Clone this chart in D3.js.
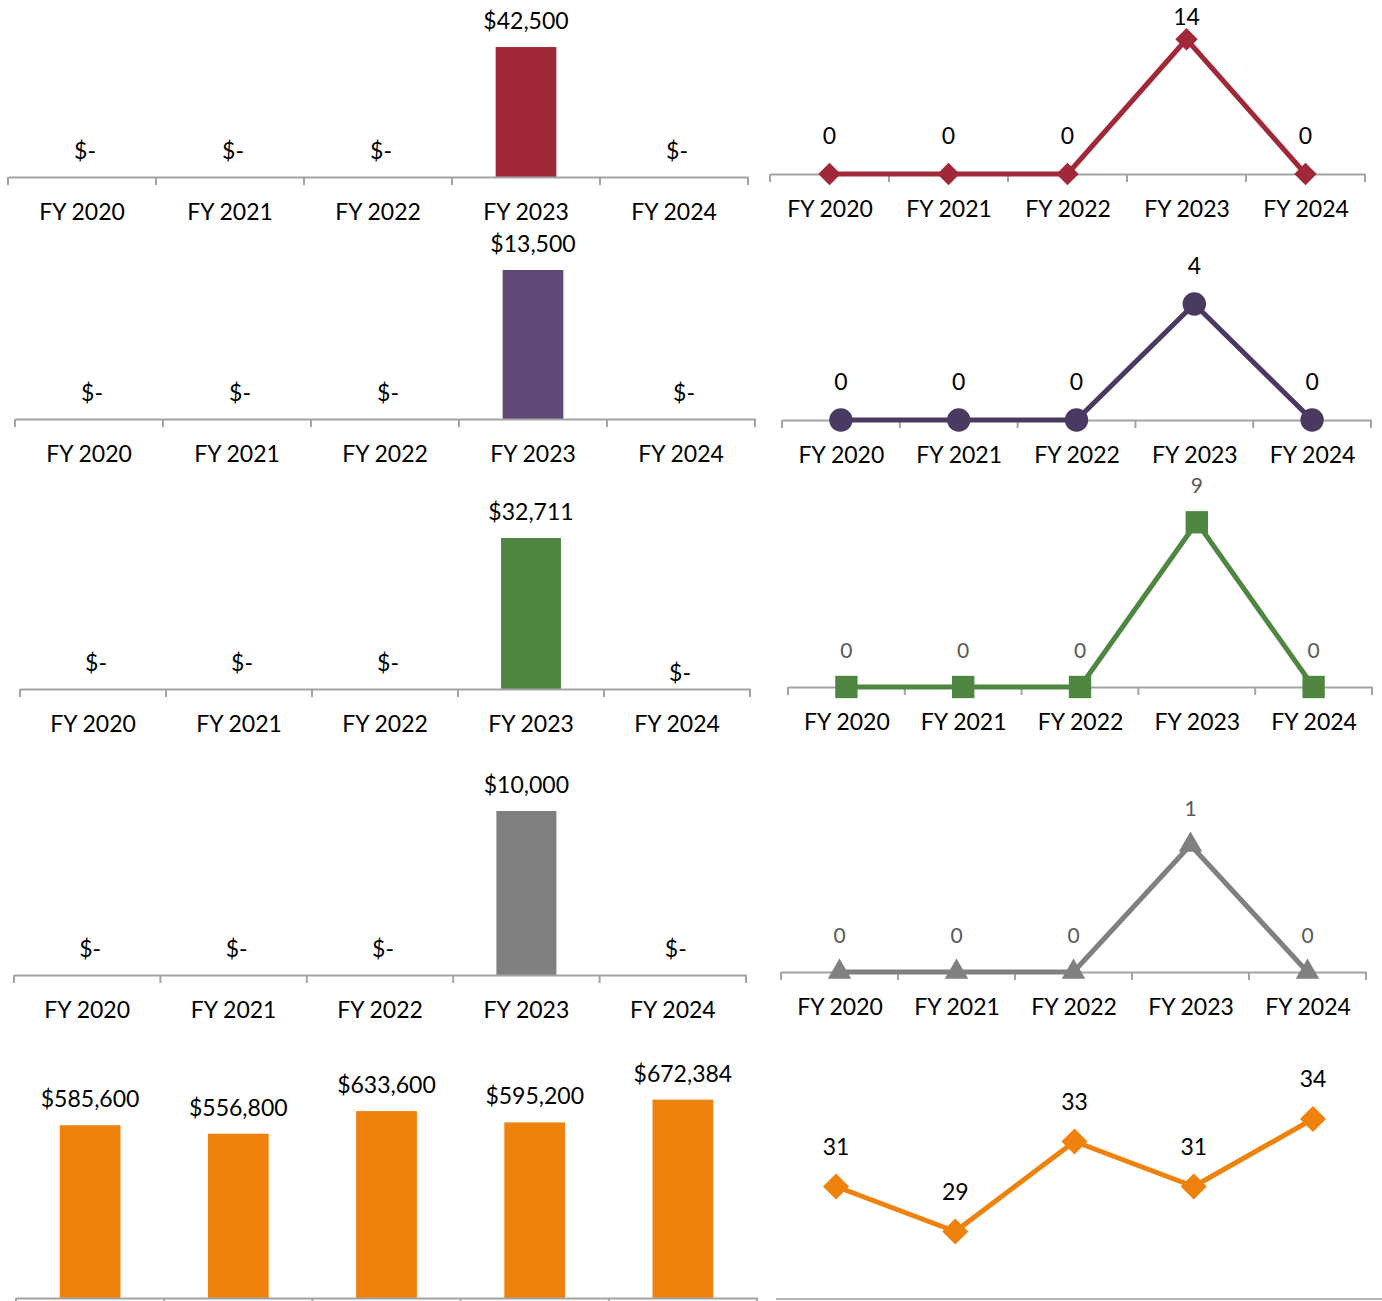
<!DOCTYPE html>
<html>
<head>
<meta charset="utf-8">
<script src="https://cdn.jsdelivr.net/npm/d3@7"></script>
<style>
  html, body { margin: 0; padding: 0; background: #fff; }
  svg { display: block; font-family: Lato, "Open Sans", sans-serif; }
</style>
</head>
<body>
<script>
// Fiscal years shared by every small chart
const years = ["FY 2020", "FY 2021", "FY 2022", "FY 2023", "FY 2024"];

// Dollar amounts (bar charts, left column)
const amountsRed    = [0, 0, 0, 42500, 0];
const amountsPurple = [0, 0, 0, 13500, 0];
const amountsGreen  = [0, 0, 0, 32711, 0];
const amountsGray   = [0, 0, 0, 10000, 0];
const amountsOrange = [585600, 556800, 633600, 595200, 672384];

// Counts (line charts, right column)
const countsRed    = [0, 0, 0, 14, 0];
const countsPurple = [0, 0, 0, 4, 0];
const countsGreen  = [0, 0, 0, 9, 0];
const countsGray   = [0, 0, 0, 1, 0];
const countsOrange = [31, 29, 33, 31, 34];

const W = 1382, H = 1301;
const AXIS_COLOR = "#a3a3a3";
const FONT = 23;

const svg = d3.select("body").append("svg").attr("width", W).attr("height", H);

const money = v => v === 0 ? "$-" : d3.format("$,")(v);

function drawAxis(g, scale, x0, x1, axisY, showLabels, tickLen) {
  const step = (x1 - x0) / years.length;
  const ax = g.append("g")
    .attr("transform", `translate(0,${axisY})`)
    .call(d3.axisBottom(scale).tickSize(0).tickSizeOuter(0));
  ax.select(".domain").attr("stroke", AXIS_COLOR).attr("stroke-width", 2);
  if (showLabels) {
    ax.selectAll(".tick text")
      .attr("y", 34.5).attr("dy", "0.35em").attr("fill", "#000")
      .style("font-size", FONT + "px").style("font-family", "Lato, sans-serif");
  } else {
    // category names fall below the bottom edge of the page
    ax.selectAll(".tick text").remove();
  }
  // category boundary ticks
  g.append("g").selectAll("line")
    .data(d3.range(years.length + 1))
    .join("line")
    .attr("x1", i => x0 + i * step).attr("x2", i => x0 + i * step)
    .attr("y1", axisY).attr("y2", axisY + tickLen)
    .attr("stroke", AXIS_COLOR).attr("stroke-width", 2);
}

function barPanel(p) {
  const g = svg.append("g");
  const x = d3.scaleBand().domain(years).range([p.x0, p.x1])
    .paddingInner(0.59).paddingOuter(0.295);
  const y = d3.scaleLinear().domain([0, p.max]).range([p.axisY, p.top]);
  const rows = years.map((yr, i) => ({ yr, v: p.values[i], i }));

  g.selectAll("rect").data(rows).join("rect")
    .attr("x", d => x(d.yr)).attr("width", x.bandwidth())
    .attr("y", d => y(d.v)).attr("height", d => p.axisY - y(d.v))
    .attr("fill", p.color);

  drawAxis(g, x, p.x0, p.x1, p.axisY, p.labels !== false, 8);

  g.selectAll("text.lbl").data(rows).join("text").attr("class", "lbl")
    .attr("x", d => x(d.yr) + x.bandwidth() / 2 + (d.v === 0 ? 3 : 0))
    .attr("y", d => y(d.v) - 26 + (p.nudge && p.nudge[d.i] ? p.nudge[d.i] : 0))
    .attr("dy", "0.35em").attr("text-anchor", "middle")
    .style("font-size", FONT + "px").attr("fill", "#000")
    .text(d => money(d.v));
}

function linePanel(p) {
  const g = svg.append("g");
  const x = d3.scalePoint().domain(years).range([p.x0, p.x1]).padding(0.5);
  const y = d3.scaleLinear().domain(p.domain).range([p.axisY, p.top]);
  const rows = years.map((yr, i) => ({ yr, v: p.values[i] }));

  if (p.ticks) {
    drawAxis(g, x, p.x0, p.x1, p.axisY, true, 8);
  } else {
    g.append("line").attr("x1", p.lineX0).attr("x2", p.lineX1)
      .attr("y1", p.axisY).attr("y2", p.axisY)
      .attr("stroke", "#b5b5b5").attr("stroke-width", 2);
  }

  g.append("path").datum(rows)
    .attr("fill", "none").attr("stroke", p.color).attr("stroke-width", 5)
    .attr("stroke-linejoin", "round")
    .attr("d", d3.line().x(d => x(d.yr)).y(d => y(d.v)));

  const sym = d3.symbol().type(p.symbol).size(p.size);
  g.selectAll("path.mk").data(rows).join("path").attr("class", "mk")
    .attr("d", sym)
    .attr("transform", d => `translate(${x(d.yr)},${y(d.v)}) rotate(${p.rotate || 0})`)
    .attr("fill", p.color);

  g.selectAll("text.lbl").data(rows).join("text").attr("class", "lbl")
    .attr("x", d => x(d.yr))
    .attr("y", d => Math.max(y(d.v) - p.labelOffset, p.labelMin))
    .attr("dy", "0.35em").attr("text-anchor", "middle")
    .style("font-size", p.labelSize + "px").attr("fill", p.labelColor)
    .text(d => d.v);
}

// Left column: dollar amounts
barPanel({ values: amountsRed,    color: "#a12838", x0: 8,  x1: 748, axisY: 177,  top: 39.4,  max: 45000 });
barPanel({ values: amountsPurple, color: "#5f4878", x0: 15, x1: 755, axisY: 419,  top: 264.5, max: 14000 });
barPanel({ values: amountsGreen,  color: "#4f8742", x0: 20, x1: 750, axisY: 689,  top: 527.4, max: 35000, nudge: [0, 0, 0, 0, 10] });
barPanel({ values: amountsGray,   color: "#808080", x0: 14, x1: 746, axisY: 975,  top: 778.2, max: 12000 });
barPanel({ values: amountsOrange, color: "#ef820c", x0: 16, x1: 757, axisY: 1298, top: 1062,  max: 800000, labels: false });

// Right column: counts
linePanel({ values: countsRed, color: "#a12838", x0: 770, x1: 1365, axisY: 174, top: 20, domain: [0, 16],
  symbol: d3.symbolSquare, size: 250, rotate: 45, labelOffset: 38, labelMin: 17, labelSize: 23, labelColor: "#000", ticks: true });
linePanel({ values: countsPurple, color: "#4a3960", x0: 782, x1: 1371, axisY: 420, top: 275, domain: [0, 5],
  symbol: d3.symbolCircle, size: 430, labelOffset: 38, labelMin: 0, labelSize: 23, labelColor: "#000", ticks: true });
linePanel({ values: countsGreen, color: "#4f8742", x0: 788, x1: 1372, axisY: 687, top: 504, domain: [0, 10],
  symbol: d3.symbolSquare, size: 500, labelOffset: 36.5, labelMin: 0, labelSize: 21, labelColor: "#595959", ticks: true });
linePanel({ values: countsGray, color: "#808080", x0: 781, x1: 1366, axisY: 972, top: 819.6, domain: [0, 1.2],
  symbol: d3.symbolTriangle, size: 240, labelOffset: 36, labelMin: 0, labelSize: 21, labelColor: "#595959", ticks: true });
linePanel({ values: countsOrange, color: "#ef820c", x0: 776.4, x1: 1372.6, axisY: 1299, top: 1074, domain: [26, 36],
  symbol: d3.symbolSquare, size: 340, rotate: 45, labelOffset: 40, labelMin: 0, labelSize: 23, labelColor: "#000",
  ticks: false, lineX0: 776, lineX1: 1382 });
</script>
</body>
</html>
